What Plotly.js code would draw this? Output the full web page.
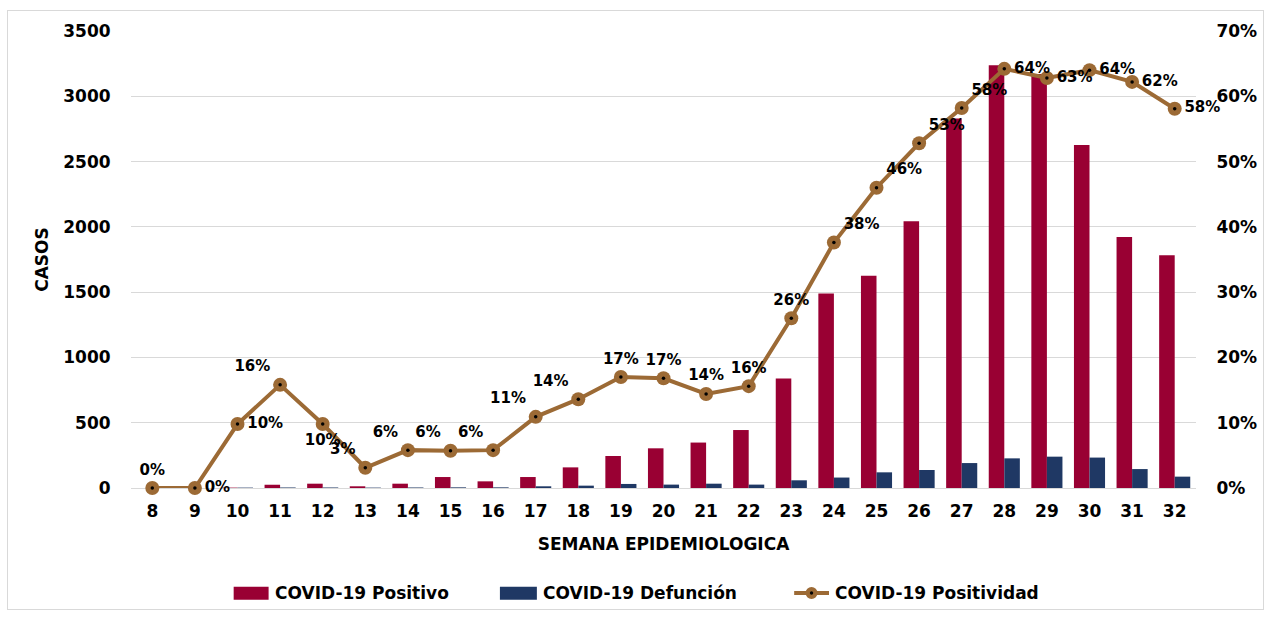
<!DOCTYPE html>
<html>
<head>
<meta charset="utf-8">
<script src="https://cdn.plot.ly/plotly-3.0.1.min.js"></script>
<style>
  html, body { margin: 0; padding: 0; background: #fff; }
  #frame { position: absolute; left: 7px; top: 10px; width: 1257px; height: 600px; border: 1px solid #D9D9D9; box-sizing: border-box; }
  #chart { position: absolute; left: 0; top: 0; width: 1255px; height: 598px; }
</style>
</head>
<body>
<div id="frame"><div id="chart"></div></div>
<script>
const semanas = ['8','9','10','11','12','13','14','15','16','17','18','19','20','21','22','23','24','25','26','27','28','29','30','31','32'];
const positivo = [0, 0, 3, 25, 33, 13, 33, 84, 51, 84, 158, 245, 304, 348, 444, 838, 1489, 1626, 2042, 2829, 3237, 3170, 2627, 1922, 1782];
const defuncion = [0, 0, 3, 4, 4, 3, 4, 5, 5, 13, 18, 31, 26, 33, 26, 59, 80, 120, 138, 191, 227, 240, 233, 145, 87];
const positividad = [0, 0, 0.098, 0.158, 0.098, 0.031, 0.058, 0.057, 0.058, 0.109, 0.136, 0.170, 0.168, 0.144, 0.156, 0.260, 0.376, 0.460, 0.528, 0.582, 0.642, 0.628, 0.640, 0.622, 0.581];
const etiquetaPos = ['top center','middle right','middle right','top left','bottom center','top left','top left','top left','top left','top left','top left','top center','top center','top center','top center','top center','top right','top right','top right','top right','middle right','middle right','middle right','middle right','middle right'];
const nombres = ['COVID-19 Positivo', 'COVID-19 Defunción', 'COVID-19 Positividad'];

const FONT = 'DejaVu Sans, sans-serif';
const LINE = '#9C6A35';
const RED = '#990033';
const NAVY = '#1F3864';

const traces = [
  { type: 'bar', name: nombres[0], x: semanas, y: positivo, showlegend: false,
    marker: { color: RED }, hoverinfo: 'skip' },
  { type: 'bar', name: nombres[1], x: semanas, y: defuncion, showlegend: false,
    marker: { color: NAVY }, hoverinfo: 'skip' },
  { type: 'scatter', mode: 'lines+markers+text', name: nombres[2], showlegend: false,
    x: semanas, y: positividad, yaxis: 'y2',
    line: { color: LINE, width: 4 },
    marker: { color: LINE, size: 14 },
    texttemplate: '%{y:.0%}', textposition: etiquetaPos,
    textfont: { family: FONT, size: 15, color: '#000', weight: 'bold' },
    cliponaxis: false, hoverinfo: 'skip' },
  { type: 'scatter', mode: 'markers', showlegend: false,
    x: semanas, y: positividad, yaxis: 'y2',
    marker: { color: '#000', size: 3.5 }, hoverinfo: 'skip', cliponaxis: false }
];

// custom legend (decoration, in paper coordinates)
const LY = -0.2298;
const legFont = { family: FONT, size: 17, color: '#000', weight: 'bold' };
const shapes = [
  { type: 'rect', xref: 'paper', yref: 'paper', x0: 0.0964, x1: 0.1292, y0: -0.2445, y1: -0.2160, fillcolor: RED, line: { width: 0 } },
  { type: 'rect', xref: 'paper', yref: 'paper', x0: 0.3464, x1: 0.3811, y0: -0.2445, y1: -0.2160, fillcolor: NAVY, line: { width: 0 } },
  { type: 'line', xref: 'paper', yref: 'paper', x0: 0.6227, x1: 0.6554, y0: LY, y1: LY, line: { color: LINE, width: 4 } },
  { type: 'circle', xref: 'paper', yref: 'paper', xsizemode: 'pixel', ysizemode: 'pixel', xanchor: 0.6390, yanchor: LY,
    x0: -6, x1: 6, y0: -6, y1: 6, fillcolor: LINE, line: { width: 0 } },
  { type: 'circle', xref: 'paper', yref: 'paper', xsizemode: 'pixel', ysizemode: 'pixel', xanchor: 0.6390, yanchor: LY,
    x0: -1.7, x1: 1.7, y0: -1.7, y1: 1.7, fillcolor: '#000', line: { width: 0 } }
];
const annotations = [
  { xref: 'paper', yref: 'paper', x: 0.1330, y: LY, xanchor: 'left', yanchor: 'middle', text: nombres[0], showarrow: false, font: legFont },
  { xref: 'paper', yref: 'paper', x: 0.3848, y: LY, xanchor: 'left', yanchor: 'middle', text: nombres[1], showarrow: false, font: legFont },
  { xref: 'paper', yref: 'paper', x: 0.6592, y: LY, xanchor: 'left', yanchor: 'middle', text: nombres[2], showarrow: false, font: legFont }
];

const layout = {
  width: 1255, height: 598,
  margin: { l: 123, r: 67, t: 20, b: 121 },
  paper_bgcolor: '#fff', plot_bgcolor: '#fff',
  font: { family: FONT, size: 17, color: '#000', weight: 'bold' },
  barmode: 'group', bargap: 0.27, bargroupgap: 0,
  showlegend: false,
  shapes: shapes, annotations: annotations,
  xaxis: {
    type: 'category', range: [-0.5, 24.5], showgrid: false, zeroline: false, showline: false, automargin: false,
    ticks: 'outside', ticklen: 8, tickcolor: 'rgba(0,0,0,0)',
    tickfont: { family: FONT, size: 17, color: '#000', weight: 'bold' },
    title: { text: 'SEMANA EPIDEMIOLOGICA', standoff: 17, font: { family: FONT, size: 17, color: '#000', weight: 'bold' } }
  },
  yaxis: {
    range: [0, 3500], dtick: 500, showgrid: true, gridcolor: '#D9D9D9', gridwidth: 1, automargin: false,
    zeroline: true, zerolinecolor: '#D9D9D9', zerolinewidth: 1, showline: false,
    ticks: 'outside', ticklen: 16, tickcolor: 'rgba(0,0,0,0)',
    tickfont: { family: FONT, size: 17, color: '#000', weight: 'bold' },
    title: { text: 'CASOS', standoff: 10, font: { family: FONT, size: 17, color: '#000', weight: 'bold' } }
  },
  yaxis2: {
    overlaying: 'y', side: 'right', range: [0, 0.7], dtick: 0.1, tickformat: '.0%', automargin: false,
    showgrid: false, zeroline: false, showline: false,
    ticks: 'outside', ticklen: 16, tickcolor: 'rgba(0,0,0,0)',
    tickfont: { family: FONT, size: 17, color: '#000', weight: 'bold' }
  }
};

Plotly.newPlot('chart', traces, layout, { displayModeBar: false, staticPlot: true });
</script>
</body>
</html>
